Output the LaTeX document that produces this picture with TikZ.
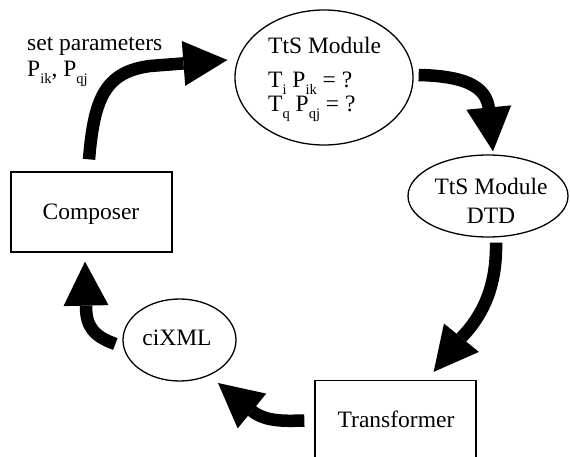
\documentclass[tikz,border=0pt]{standalone}
\usepackage{fontspec}
\setmainfont{Liberation Serif}
\usetikzlibrary{arrows.meta,shapes.geometric,calc}
\newcommand\subsc[1]{\raisebox{-0.28em}{\fontsize{14.5}{14.5}\selectfont #1}}
\begin{document}
\begin{tikzpicture}[x=1pt,y=-1pt,
  box/.style={draw, line width=1.3pt, minimum width=161pt, minimum height=80pt, inner sep=0pt},
  ell/.style={draw, ellipse, line width=1.3pt, inner sep=0pt},
  txt/.style={inner sep=0pt, font=\fontsize{23.5}{28}\selectfont},
  flow/.style={line width=12.5pt, -{Triangle[length=44pt,width=45pt,line width=0pt]}}]
\useasboundingbox (0,0) rectangle (570,457);
\clip (0,0) rectangle (570,457);
% shapes
\node[box] (composer) at (91.5,212) {};
\node[box] (transformer) at (395.5,420.5) {};
\node[ell, minimum width=178pt, minimum height=135pt] (tts) at (324,77.5) {};
\node[ell, minimum width=160pt, minimum height=82pt] (dtd) at (488,196) {};
\node[ell, minimum width=113pt, minimum height=82pt] (cixml) at (179.5,340) {};
% texts
\node[txt, anchor=base] (composertext) at (91,219) {Composer};
\node[txt, anchor=base] (transformertext) at (396,427) {Transformer};
\node[txt, anchor=base] (cixmltext) at (177,345) {ciXML};
\node[txt, anchor=base] (dtdtext1) at (491,195) {TtS Module};
\node[txt, anchor=base] (dtdtext2) at (491,223) {DTD};
\node[txt, anchor=base west] (ttstext1) at (268,54) {TtS Module};
\node[txt, anchor=base west] (ttstext2) at (268,88) {T\subsc{i} P\subsc{ik} = ?};
\node[txt, anchor=base west] (ttstext3) at (268,112) {T\subsc{q} P\subsc{qj} = ?};
\node[txt, anchor=base west] (settext1) at (27,51) {set parameters};
\node[txt, anchor=base west] (settext2) at (27,77) {P\subsc{ik}, P\subsc{qj}};
% connectors
\draw[flow] ($(composer.north)+(-2.5,-12)$) .. controls (94,100) and (104,72) .. (150,66) -- ($(tts.west)+(-7,-17.5)$);
\draw[flow] ($(tts.east)+(5,-2.5)$) .. controls (460,76) and (487,84) .. (489,110) -- ($(dtd.north)+(5,-3)$);
\draw[flow] ($(dtd.south)+(8,5)$) .. controls (497,290) and (480,318) .. (462,337) -- ($(transformer.north east)+(-43,-8)$);
\draw[flow] ($(transformer.west)+(-10,0)$) .. controls (285,421) and (266,422) .. (252,411) -- ($(cixml.center)+(38.5,43)$);
\draw[flow] ($(cixml.west)+(-7,4)$) .. controls (93,336) and (86,326) .. (86,306) -- ($(composer.south)+(-6.5,9)$);
\end{tikzpicture}
\end{document}
